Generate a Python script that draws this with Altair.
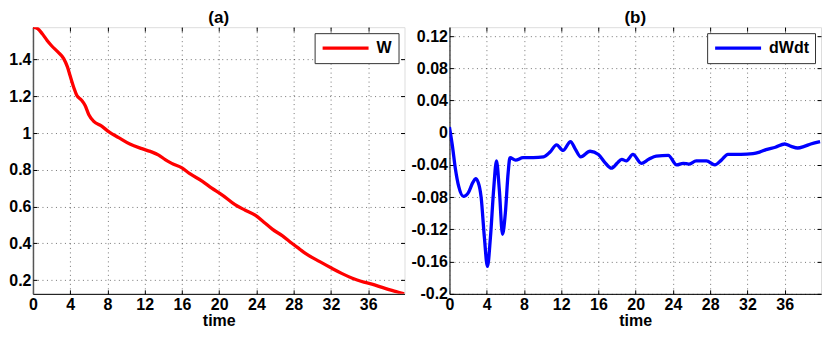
import altair as alt
import pandas as pd

# ---- data ----
t_w = [0, 0.5, 1.0, 1.5, 2.0, 2.7, 3.3, 3.7, 4.0, 4.4, 4.7, 5.2, 5.6, 6.0, 6.5, 7.3, 8.2, 9.2,
       10.4, 11.7, 12.6, 13.5, 14.2, 14.9, 16.0, 16.8, 18.2, 19.2, 20.3, 21.7, 22.8, 23.9, 24.8,
       25.7, 26.8, 27.8, 28.6, 29.3, 30.8, 32.1, 33.2, 34.3, 35.3, 36.4, 37.5, 38.8, 39.9]
w = [1.576, 1.568, 1.54, 1.505, 1.475, 1.44, 1.405, 1.36, 1.31, 1.245, 1.205, 1.18, 1.15, 1.10,
     1.065, 1.04, 1.005, 0.975, 0.94, 0.915, 0.90, 0.88, 0.855, 0.835, 0.81, 0.78, 0.737, 0.70,
     0.664, 0.61, 0.58, 0.552, 0.515, 0.477, 0.44, 0.40, 0.37, 0.344, 0.30, 0.264, 0.235, 0.21,
     0.192, 0.178, 0.16, 0.14, 0.125]

t_d = [0, 0.3, 0.64, 1.0, 1.5, 2.0, 2.5, 2.8, 3.1, 3.4, 3.75, 4.08, 4.4, 4.75, 5.05, 5.35, 5.7,
       6.0, 6.3, 6.5, 7.1, 7.9, 9.0, 10.1, 10.8, 11.5, 12.2, 13.0, 13.5, 14.1, 15.1, 16.0, 16.7,
       17.4, 18.0, 18.5, 19.0, 19.7, 20.6, 21.4, 22.2, 23.5, 24.4, 25.1, 25.7, 26.5, 27.6, 28.5,
       29.2, 29.9, 31.3, 32.6, 33.3, 34.0, 35.0, 36.0, 36.7, 37.4, 38.1, 38.8, 39.8]
dwdt = [0.007, -0.015, -0.045, -0.067, -0.079, -0.075, -0.062, -0.057, -0.062, -0.08, -0.13,
        -0.166, -0.13, -0.07, -0.035, -0.07, -0.126, -0.1, -0.05, -0.031, -0.034, -0.031, -0.031,
        -0.030, -0.024, -0.015, -0.022, -0.011, -0.02, -0.030, -0.023, -0.027, -0.037, -0.044,
        -0.038, -0.033, -0.035, -0.027, -0.038, -0.033, -0.029, -0.028, -0.040, -0.038, -0.039,
        -0.035, -0.035, -0.040, -0.034, -0.027, -0.027, -0.026, -0.024, -0.021, -0.018, -0.014,
        -0.017, -0.019, -0.017, -0.014, -0.011]

x_ticks = [0, 4, 8, 12, 16, 20, 24, 28, 32, 36]
y_ticks_a = [0.2, 0.4, 0.6, 0.8, 1.0, 1.2, 1.4]
y_ticks_b = [-0.2, -0.16, -0.12, -0.08, -0.04, 0, 0.04, 0.08, 0.12]

FONT = "Liberation Sans"
LBL = "replace(format(datum.value, '.2~f'), '\u2212', '-')"

df_a = pd.DataFrame({"time": t_w, "value": w, "series": "W"})
df_b = pd.DataFrame({"time": t_d, "value": dwdt, "series": "dWdt"})


def tick_axis(vals, orient):
    return alt.Axis(values=vals, orient=orient, offset=-4, tickSize=4, tickColor="#000",
                    tickWidth=1, labels=False, domain=False, grid=False, title=None)


def panel(df, color, name, ydom, yticks, title):
    xs = alt.Scale(domain=[0, 39.9], nice=False, zero=False)
    ys = alt.Scale(domain=ydom, nice=False, zero=False)
    xax = alt.Axis(values=x_ticks, title="time", labelFont=FONT, labelFontWeight="bold",
                   labelFontSize=16, titleFont=FONT, titleFontWeight="bold", titleFontSize=16,
                   titlePadding=0, labelPadding=3, tickSize=0, gridDash=[1, 3.5],
                   gridColor="#000", gridOpacity=0.55, domainColor="#000", labelColor="#000",
                   titleColor="#000", labelFlush=False)
    yax = alt.Axis(values=yticks, title=None, labelExpr=LBL, labelFont=FONT,
                   labelFontWeight="bold", labelFontSize=16, labelPadding=2, tickSize=0,
                   gridDash=[1, 3.5], gridColor="#000", gridOpacity=0.55, domainColor="#555",
                   domainWidth=1.5, labelColor="#000", labelFlush=False)
    main = alt.Chart(df).mark_line(strokeWidth=3.3, clip=True, interpolate="monotone").encode(
        x=alt.X("time:Q", scale=xs, axis=xax),
        y=alt.Y("value:Q", scale=ys, axis=yax),
        color=alt.Color("series:N", scale=alt.Scale(domain=[name], range=[color]),
                        legend=alt.Legend(title=None, orient="top-right", offset=6,
                                          symbolType="stroke", symbolSize=2116,
                                          symbolStrokeWidth=3.3, labelFont=FONT,
                                          labelFontWeight="bold", labelFontSize=16,
                                          labelColor="#000", strokeColor="#333",
                                          fillColor="white", padding=6, labelOffset=6,
                                          clipHeight=18)),
    )
    inner1 = alt.Chart(df).mark_line(opacity=0).encode(
        x=alt.X("time:Q", scale=xs, axis=tick_axis(x_ticks, "top")),
        y=alt.Y("value:Q", scale=ys, axis=tick_axis(yticks, "right")),
    )
    inner2 = alt.Chart(df).mark_line(opacity=0).encode(
        x=alt.X("time:Q", scale=xs, axis=tick_axis(x_ticks, "bottom")),
        y=alt.Y("value:Q", scale=ys, axis=tick_axis(yticks, "left")),
    )
    return alt.layer(main, inner1, inner2).resolve_axis(x="independent", y="independent").properties(
        width=372, height=267,
        title=alt.TitleParams(title, font=FONT, fontWeight="bold", fontSize=17, offset=0,
                              color="#000"),
    )


left = panel(df_a, "#ff0000", "W", [0.125, 1.576], y_ticks_a, "(a)")
right = panel(df_b, "#0000ff", "dWdt", [-0.2, 0.131], y_ticks_b, "(b)")

chart = alt.hconcat(left, right, spacing=5).resolve_scale(color="independent").resolve_legend(
    color="independent"
).properties(padding=0).configure_view(stroke="#000", strokeWidth=1).configure(
    background="white")

chart.save("out.html", embed_options={"renderer": "svg", "actions": False})
